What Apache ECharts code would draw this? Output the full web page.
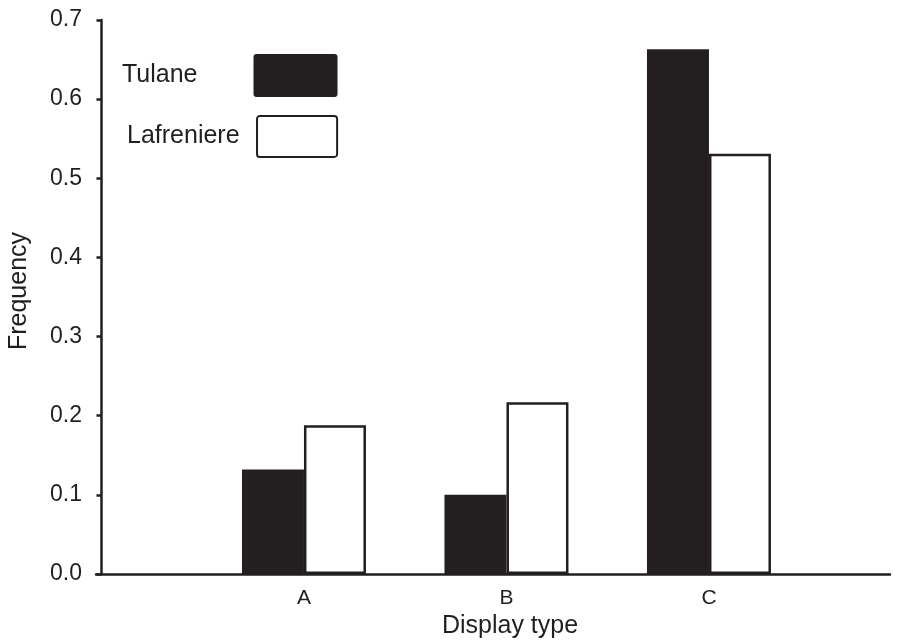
<!DOCTYPE html>
<html>
<head>
<meta charset="utf-8">
<script src="https://cdn.jsdelivr.net/npm/echarts@6/dist/echarts.min.js"></script>
<style>
  html, body { margin: 0; padding: 0; background: #fff; }
  #chart { width: 904px; height: 643px; }
</style>
</head>
<body>
<div id="chart"></div>
<script>
// data
const categories = ['A', 'B', 'C'];
const catPos = [1, 2, 3];
const tulane = [0.132, 0.100, 0.663];
const lafreniere = [0.188, 0.217, 0.531];

const ink = '#231f20';
const font = 'Liberation Sans';
// slightly rounded box for the legend keys
const keyIcon = 'path://M3,0 H81 A3,3 0 0 1 84,3 V40 A3,3 0 0 1 81,43 H3 A3,3 0 0 1 0,40 V3 A3,3 0 0 1 3,0 Z';

const chart = echarts.init(document.getElementById('chart'));

const option = {
  backgroundColor: '#fff',
  animation: false,
  grid: { left: 96, right: 14, top: 20, bottom: 69, outerBoundsMode: 'none' },
  legend: [
    {
      data: ['Tulane'],
      left: 122, top: 54, padding: 0,
      align: 'right',
      icon: keyIcon,
      itemWidth: 84, itemHeight: 43,
      textStyle: { fontFamily: font, fontSize: 25, color: ink, padding: [8, 51, 0, 0] }
    },
    {
      data: ['Lafreniere'],
      left: 127, top: 115, padding: 0,
      align: 'right',
      icon: keyIcon,
      itemWidth: 81, itemHeight: 41,
      textStyle: { fontFamily: font, fontSize: 25, color: ink, padding: [2, 12, 0, 0] }
    }
  ],
  xAxis: {
    type: 'value',
    min: -0.027, max: 3.894,
    splitLine: { show: false },
    axisLine: { show: true, lineStyle: { color: ink, width: 2.5 } },
    axisTick: { show: false },
    axisLabel: {
      customValues: catPos,
      formatter: v => categories[catPos.indexOf(v)] || '',
      fontFamily: font, fontSize: 21, color: ink, margin: 14
    },
    name: 'Display type',
    nameLocation: 'middle',
    nameGap: 40,
    nameTextStyle: { fontFamily: font, fontSize: 25, color: ink, padding: [0, 0, 0, 34] }
  },
  yAxis: {
    type: 'value',
    min: 0, max: 0.7, interval: 0.1,
    splitLine: { show: false },
    axisLine: { show: true, lineStyle: { color: ink, width: 2.5 } },
    axisTick: { show: true, length: 5, lineStyle: { color: ink, width: 2.5 } },
    axisLabel: {
      formatter: v => v.toFixed(1),
      fontFamily: font, fontSize: 23, color: ink, margin: 14
    },
    name: 'Frequency',
    nameLocation: 'middle',
    nameGap: 64,
    nameTextStyle: { fontFamily: font, fontSize: 25, color: ink, padding: [0, 0, 0, 12] }
  },
  series: [
    {
      name: 'Tulane',
      type: 'bar',
      barWidth: 62,
      barGap: '0%',
      data: catPos.map((x, i) => [x, tulane[i]]),
      itemStyle: { color: ink, borderColor: ink, borderWidth: 0 }
    },
    {
      name: 'Lafreniere',
      type: 'bar',
      barWidth: 62,
      barGap: '0%',
      data: catPos.map((x, i) => [x, lafreniere[i]]),
      itemStyle: { color: '#fff', borderColor: ink, borderWidth: 2.5 }
    }
  ]
};

chart.setOption(option);
</script>
</body>
</html>
